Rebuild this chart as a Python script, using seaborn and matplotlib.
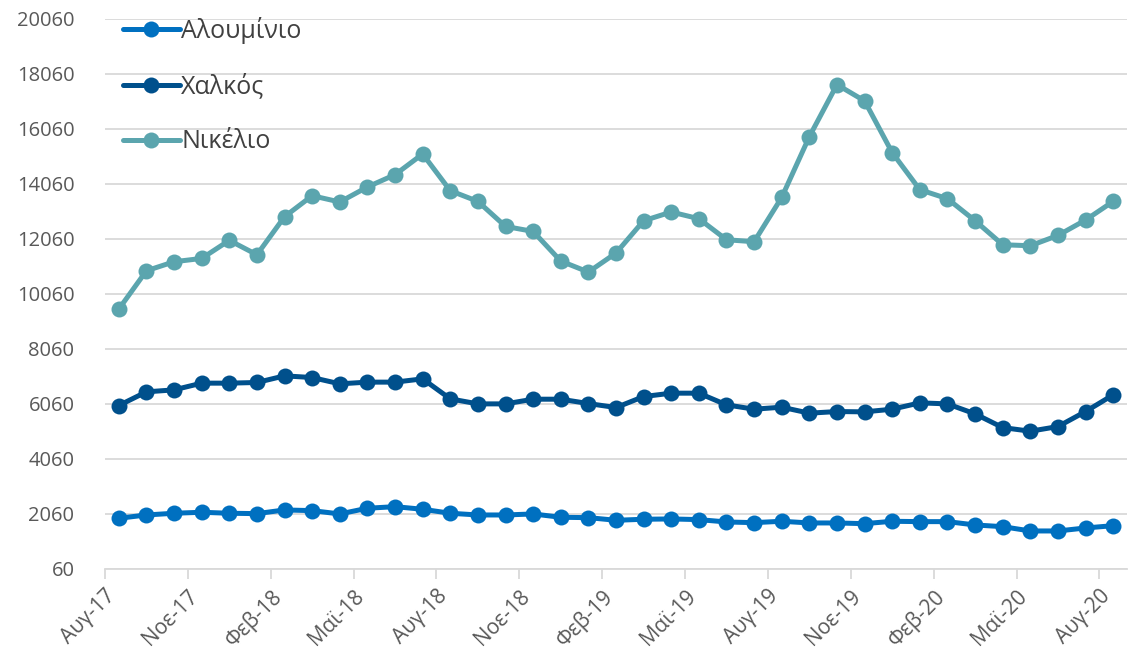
import numpy as np
import pandas as pd
import matplotlib
matplotlib.use("Agg")
import matplotlib.pyplot as plt
import matplotlib.transforms as mtransforms
import seaborn as sns

# monthly values Aug-17 .. Aug-20
months = ["Αυγ-17", "Σεπ-17", "Οκτ-17", "Νοε-17", "Δεκ-17", "Ιαν-18", "Φεβ-18", "Μαρ-18",
          "Απρ-18", "Μαϊ-18", "Ιουν-18", "Ιουλ-18", "Αυγ-18", "Σεπ-18", "Οκτ-18", "Νοε-18",
          "Δεκ-18", "Ιαν-19", "Φεβ-19", "Μαρ-19", "Απρ-19", "Μαϊ-19", "Ιουν-19", "Ιουλ-19",
          "Αυγ-19", "Σεπ-19", "Οκτ-19", "Νοε-19", "Δεκ-19", "Ιαν-20", "Φεβ-20", "Μαρ-20",
          "Απρ-20", "Μαϊ-20", "Ιουν-20", "Ιουλ-20", "Αυγ-20"]

aluminium = [1903, 2023, 2085, 2121, 2085, 2072, 2205, 2181, 2060, 2267,
             2325, 2230, 2085, 2023, 2023, 2060, 1939, 1926, 1830, 1867,
             1879, 1854, 1769, 1744, 1794, 1733, 1733, 1707, 1794, 1781,
             1781, 1660, 1598, 1442, 1442, 1551, 1634]

copper = [6000, 6496, 6568, 6812, 6812, 6836, 7077, 7016, 6787, 6849,
          6849, 6968, 6241, 6059, 6059, 6229, 6229, 6071, 5925, 6325,
          6448, 6448, 6023, 5866, 5939, 5721, 5781, 5769, 5866, 6096,
          6059, 5696, 5198, 5066, 5235, 5781, 6387]

nickel = [9503, 10895, 11223, 11343, 12000, 11477, 12859, 13622, 13393, 13939,
          14386, 15138, 13804, 13415, 12506, 12324, 11248, 10848, 11539, 12713,
          13030, 12786, 12022, 11950, 13561, 15768, 17658, 17066, 15186, 13840,
          13513, 12713, 11841, 11804, 12179, 12739, 13415]

series_names = ["Αλουμίνιο", "Χαλκός", "Νικέλιο"]
colors = ["#0070C0", "#00508C", "#5BA5AE"]

n = len(months)
pos = np.arange(n) + 0.5  # points sit mid-month on the date axis
df = pd.DataFrame({
    "x": np.tile(pos, 3),
    "value": aluminium + copper + nickel,
    "metal": np.repeat(series_names, n),
})

sns.set_style("white")
plt.rcParams["font.family"] = ["Open Sans", "DejaVu Sans"]

fig = plt.figure(figsize=(11.29, 6.53), dpi=100)
ax = fig.add_axes([105 / 1129, 1 - 569 / 653, 1022 / 1129, 550.5 / 653])

sns.lineplot(data=df, x="x", y="value", hue="metal", hue_order=series_names,
             palette=dict(zip(series_names, colors)), marker="o", markersize=11.5,
             markeredgewidth=0, linewidth=3.6, ax=ax)

ax.set_xlim(0, 37)
ax.set_ylim(60, 20060)
ax.set_yticks(np.arange(60, 20061, 2000))
ax.set_xticks(np.arange(0, n, 3))
ax.set_xticklabels(months[::3], rotation=45, ha="right", rotation_mode="anchor")
ax.set_xlabel("")
ax.set_ylabel("")

# shift rotated labels a little to the right, like the spreadsheet original
shift = mtransforms.ScaledTranslation(10 / 100, 0, fig.dpi_scale_trans)
for lab in ax.get_xticklabels():
    lab.set_transform(lab.get_transform() + shift)

ax.grid(axis="y", color="#D9D9D9", linewidth=1.3)
ax.set_axisbelow(True)
for s in ["left", "right", "top"]:
    ax.spines[s].set_visible(False)
ax.spines["bottom"].set_color("#D9D9D9")
ax.spines["bottom"].set_linewidth(1.3)
ax.tick_params(axis="x", direction="out", length=7, width=1.3, color="#D9D9D9",
               labelsize=15, labelcolor="#595959", pad=5, bottom=True)
ax.tick_params(axis="y", length=0, labelsize=14.5, labelcolor="#595959", pad=22)

leg = ax.legend(loc="upper left", bbox_to_anchor=(0.0, 1.035), frameon=False,
                fontsize=18, labelspacing=1.2, handlelength=2.3, handletextpad=0.05,
                borderaxespad=0.3)
for t in leg.get_texts():
    t.set_color("#404040")

fig.savefig("out.png", dpi=100)
